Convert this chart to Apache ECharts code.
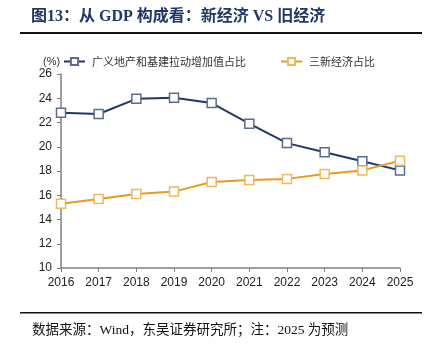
<!DOCTYPE html>
<html><head><meta charset="utf-8">
<script src="https://cdn.jsdelivr.net/npm/echarts@6/dist/echarts.min.js"></script>
<style>html,body{margin:0;padding:0;background:#fff}#c{width:438px;height:350px}</style>
</head><body><div id="c"></div>
<script>
var years = ['2016','2017','2018','2019','2020','2021','2022','2023','2024','2025'];
var oldEconomy = [22.8, 22.7, 23.95, 24.05, 23.6, 21.9, 20.3, 19.55, 18.8, 18.05];
var newEconomy = [15.3, 15.7, 16.1, 16.3, 17.1, 17.25, 17.35, 17.75, 18.05, 18.85];
var oldName = '广义地产和基建拉动增加值占比';
var newName = '三新经济占比';
var titleText = '图13：从 GDP 构成看：新经济 VS 旧经济';
var sourceText = '数据来源：Wind，东吴证券研究所；注：2025 为预测';

var chart = echarts.init(document.getElementById('c'), null, {renderer:'canvas'});
var serif = "'Liberation Serif','Noto Sans CJK SC',serif";
chart.setOption({
  animation:false,
  backgroundColor:'#fff',
  graphic:[
    {type:'text', left:31, top:9, style:{text:titleText, font:"bold 16px "+serif, fill:'#1f3864'}},
    {type:'rect', shape:{x:20,y:32,width:402,height:2}, style:{fill:'#111'}},
    {type:'rect', shape:{x:20,y:312,width:402,height:1.5}, style:{fill:'#111'}},
    {type:'text', left:32, top:324, style:{text:sourceText, font:"13.5px "+serif, fill:'#111'}},
    {type:'text', left:43, top:56, style:{text:'(%)', font:"11px 'Liberation Sans',sans-serif", fill:'#333'}}
  ],
  legend:{
    top:56, left:63, padding:0, itemGap:34, itemWidth:21, itemHeight:9,
    textStyle:{fontFamily:"'Noto Sans CJK SC',sans-serif", fontSize:11, color:'#333', padding:[0,0,0,2]},
    data:[{name:oldName},{name:newName}]
  },
  grid:{left:61, right:38, top:74, bottom:82},
  xAxis:{
    type:'category', data:years, boundaryGap:false,
    axisLine:{lineStyle:{color:'#808080', width:1.5}},
    axisTick:{show:true, alignWithLabel:true, length:4, lineStyle:{color:'#808080'}},
    axisLabel:{color:'#222', fontSize:12, fontFamily:"'Liberation Sans',Arial,sans-serif", margin:9}
  },
  yAxis:{
    type:'value', min:10, max:26, interval:2,
    axisLine:{show:true, lineStyle:{color:'#808080', width:1.5}},
    axisTick:{show:true, length:4, lineStyle:{color:'#808080'}},
    splitLine:{show:false},
    axisLabel:{color:'#222', fontSize:12, fontFamily:"'Liberation Sans',Arial,sans-serif", margin:9}
  },
  series:[
    {name:oldName, type:'line', data:oldEconomy, symbol:'rect', symbolSize:9,
     lineStyle:{color:'#1f3864', width:2}, itemStyle:{color:'#fff', borderColor:'#5a6d8c', borderWidth:1.5}},
    {name:newName, type:'line', data:newEconomy, symbol:'rect', symbolSize:9,
     lineStyle:{color:'#e89a22', width:2}, itemStyle:{color:'#fff', borderColor:'#efb85c', borderWidth:1.5}}
  ]
});
</script></body></html>
